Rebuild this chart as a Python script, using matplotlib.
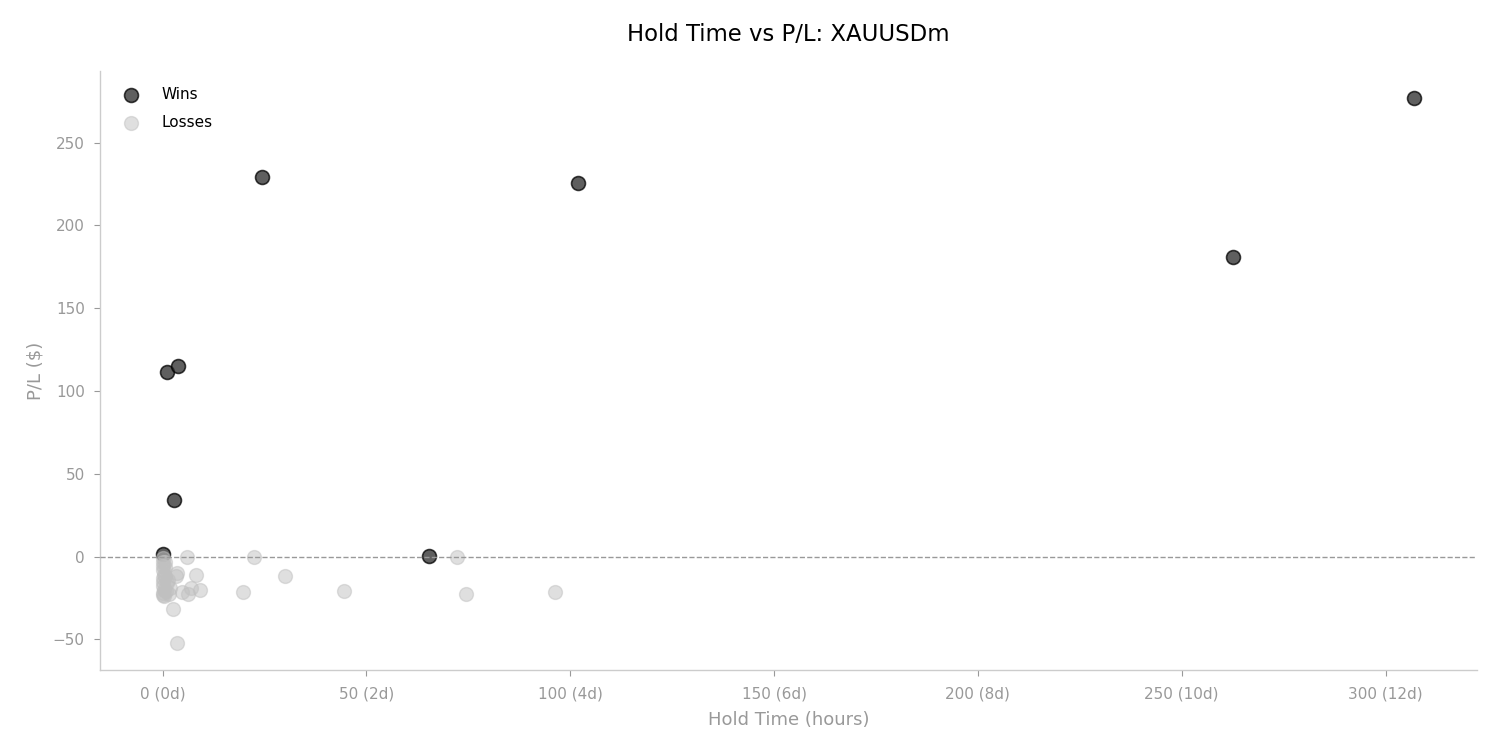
import matplotlib
matplotlib.use("Agg")
import matplotlib.pyplot as plt

# Wins: hold time (hours), P/L ($)
win_hours = [0.0, 1.15, 3.85, 2.8, 24.3, 102.0, 262.5, 307.1, 65.4]
win_pl = [1.5, 111.5, 115.3, 34.4, 228.9, 225.8, 180.6, 276.6, 0.6]

# Losses: hold time (hours), P/L ($)
loss_hours = [0.0, 0.1, 0.2, 0.0, 0.3, 0.1, 0.0, 0.2, 0.4, 0.0, 0.1, 0.3, 0.6, 0.9,
              5.9, 22.3, 72.3, 30.1, 44.4, 74.5, 96.3, 19.6, 9.1, 8.3, 3.4, 2.5,
              6.1, 3.2, 4.7, 3.6, 6.9, 1.0, 1.5, 1.8, 0.7, 1.2, 0.5]
loss_pl = [-1.0, -3.0, -5.5, -8.0, -11.0, -13.0, -15.5, -18.0, -20.0, -22.0, -23.0, -24.0, -12.0, -21.0,
           -0.2, -0.2, -0.2, -11.5, -20.5, -22.3, -21.1, -21.1, -19.9, -10.9, -51.9, -31.4,
           -22.3, -11.5, -21.1, -9.7, -18.7, -16.0, -22.5, -19.0, -6.5, -14.0, -3.5]

x_ticks = [0, 50, 100, 150, 200, 250, 300]
x_tick_labels = ["0 (0d)", "50 (2d)", "100 (4d)", "150 (6d)", "200 (8d)", "250 (10d)", "300 (12d)"]

fig = plt.figure(figsize=(15, 7.5), dpi=100)
ax = fig.add_axes([0.0667, 0.107, 0.918, 0.798])

ax.scatter(win_hours, win_pl, s=100, c="#2a2a2a", alpha=0.75, edgecolors="black",
           linewidths=1.2, label="Wins", zorder=2)
ax.scatter(loss_hours, loss_pl, s=100, c="#c0c0c0", alpha=0.5, edgecolors="#c0c0c0",
           linewidths=1.0, label="Losses", zorder=2)
ax.axhline(0, color="#999999", linestyle="--", linewidth=1.0, zorder=3)

ax.set_xticks(x_ticks)
ax.set_xticklabels(x_tick_labels)
ax.set_yticks([-50, 0, 50, 100, 150, 200, 250])

for side in ["top", "right"]:
    ax.spines[side].set_visible(False)
for side in ["left", "bottom"]:
    ax.spines[side].set_color("#cccccc")
    ax.spines[side].set_linewidth(1.0)
ax.tick_params(axis="x", colors="#999999", labelsize=11, length=4, pad=8)
ax.tick_params(axis="y", colors="#999999", labelsize=11, length=4, pad=7)

ax.set_xlabel("Hold Time (hours)", fontsize=13, color="#999999", labelpad=7)
ax.set_ylabel("P/L ($)", fontsize=13, color="#999999", labelpad=6)
ax.set_title("Hold Time vs P/L: XAUUSDm", fontsize=16.4, color="black", pad=22)

leg = ax.legend(loc="upper left", frameon=False, fontsize=11, handletextpad=1.0,
                labelspacing=0.9, borderaxespad=0.6)

fig.savefig("out.png", dpi=100)
